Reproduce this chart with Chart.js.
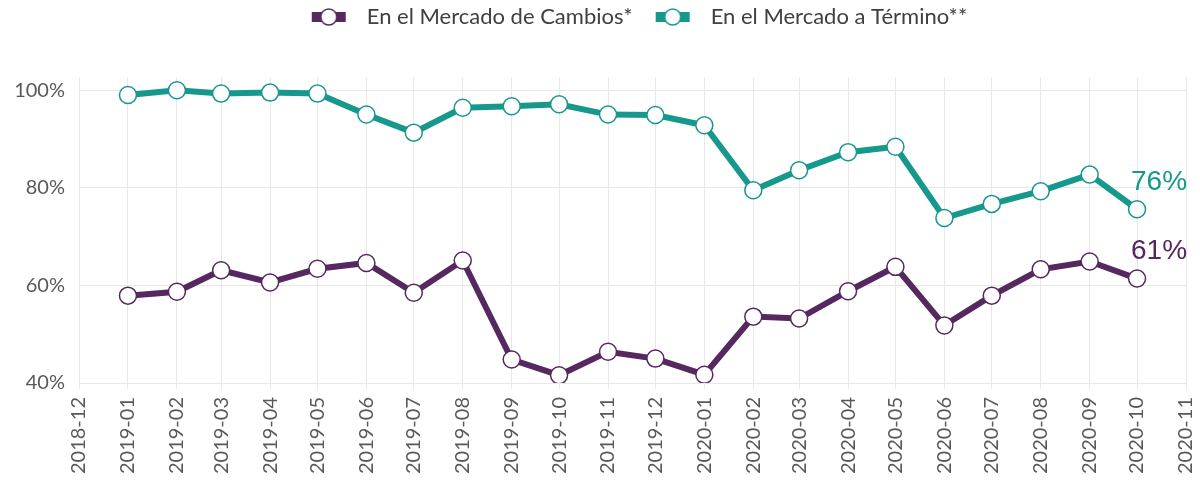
<!DOCTYPE html>
<html>
<head>
<meta charset="utf-8">
<script src="https://cdn.jsdelivr.net/npm/chart.js@4/dist/chart.umd.min.js"></script>
<style>
    html, body { margin: 0; padding: 0; background: #ffffff; }
    #wrap { width: 1200px; height: 483px; }
</style>
</head>
<body>
<div id="wrap"><canvas id="chart" width="1200" height="483"></canvas></div>
<script>
// Months with data
const months = ['2019-01', '2019-02', '2019-03', '2019-04', '2019-05', '2019-06', '2019-07', '2019-08',
    '2019-09', '2019-10', '2019-11', '2019-12', '2020-01', '2020-02', '2020-03', '2020-04',
    '2020-05', '2020-06', '2020-07', '2020-08', '2020-09', '2020-10'];

// Axis tick labels
const xTickLabels = ['2018-12', '2019-01', '2019-02', '2019-03', '2019-04', '2019-05', '2019-06',
    '2019-07', '2019-08', '2019-09', '2019-10', '2019-11', '2019-12', '2020-01', '2020-02',
    '2020-03', '2020-04', '2020-05', '2020-06', '2020-07', '2020-08', '2020-09', '2020-10', '2020-11'];
const yTickValues = [40, 60, 80, 100];

// Series values (%)
const cambios = [57.9, 58.7, 63.1, 60.6, 63.4, 64.6, 58.5, 65.1, 44.8, 41.6, 46.4, 45.0,
    41.7, 53.6, 53.2, 58.8, 63.8, 51.8, 57.9, 63.3, 64.9, 61.4];
const termino = [99.0, 100.0, 99.3, 99.5, 99.3, 95.0, 91.3, 96.4, 96.7, 97.1, 95.0, 94.9,
    92.8, 79.5, 83.6, 87.3, 88.4, 73.8, 76.7, 79.3, 82.7, 75.6];

const seriesNames = ['En el Mercado de Cambios*', 'En el Mercado a Término**'];
const purple = '#55285f';
const teal = '#16998c';

// month string -> day number (so months sit at their real spacing)
function dayOf(m) {
    const parts = m.split('-');
    return Date.UTC(+parts[0], +parts[1] - 1, 1) / 86400000;
}

function toPoints(values) {
    return values.map((v, i) => ({ x: dayOf(months[i]), y: v }));
}

// legend marker: thick line with open circle (transparent margins give the spacing)
const markerLeft = 17;
const markerWidth = 61;
function legendMarker(color) {
    const c = document.createElement('canvas');
    c.width = markerWidth;
    c.height = 20;
    const ctx = c.getContext('2d');
    ctx.fillStyle = color;
    ctx.fillRect(markerLeft, 5, 34, 10);
    ctx.beginPath();
    ctx.arc(markerLeft + 17, 10, 8, 0, Math.PI * 2);
    ctx.fillStyle = '#ffffff';
    ctx.fill();
    ctx.lineWidth = 1.5;
    ctx.strokeStyle = color;
    ctx.stroke();
    return c;
}

// last value label next to each line
const endLabels = {
    id: 'endLabels',
    afterDatasetsDraw(chart) {
        const ctx = chart.ctx;
        ctx.save();
        ctx.font = '28px "Liberation Sans", Arial, sans-serif';
        ctx.textAlign = 'left';
        ctx.textBaseline = 'middle';
        chart.data.datasets.forEach((ds, i) => {
            const meta = chart.getDatasetMeta(i);
            const last = meta.data[meta.data.length - 1];
            const value = ds.data[ds.data.length - 1].y;
            ctx.fillStyle = ds.borderColor;
            ctx.fillText(Math.round(value) + '%', last.x - 6, last.y - 27);
        });
        ctx.restore();
    }
};

const tickFont = { family: 'Lato, "Open Sans", sans-serif', size: 20 };

const chart = new Chart(document.getElementById('chart'), {
    type: 'line',
    data: {
        datasets: [
            {
                label: seriesNames[0],
                data: toPoints(cambios),
                borderColor: purple,
                backgroundColor: '#ffffff',
                borderWidth: 6,
                pointRadius: 8.5,
                pointBorderWidth: 1.5,
                pointBackgroundColor: '#ffffff',
                pointBorderColor: purple,
                tension: 0
            },
            {
                label: seriesNames[1],
                data: toPoints(termino),
                borderColor: teal,
                backgroundColor: '#ffffff',
                borderWidth: 6,
                pointRadius: 8.5,
                pointBorderWidth: 1.5,
                pointBackgroundColor: '#ffffff',
                pointBorderColor: teal,
                tension: 0
            }
        ]
    },
    options: {
        responsive: false,
        animation: false,
        layout: { padding: { top: 0, right: 14, left: 0, bottom: 0 } },
        plugins: {
            tooltip: { enabled: false },
            legend: {
                position: 'top',
                labels: {
                    usePointStyle: true,
                    pointStyleWidth: markerWidth,
                    boxHeight: 20,
                    padding: 6,
                    color: '#404040',
                    font: { family: 'Lato, "Open Sans", sans-serif', size: 22 },
                    generateLabels(chart) {
                        return chart.data.datasets.map((ds, i) => ({
                            text: ds.label,
                            pointStyle: legendMarker(ds.borderColor),
                            fillStyle: ds.borderColor,
                            strokeStyle: ds.borderColor,
                            lineWidth: 0,
                            hidden: false,
                            datasetIndex: i,
                            fontColor: '#404040'
                        }));
                    }
                }
            }
        },
        scales: {
            x: {
                type: 'linear',
                min: dayOf(xTickLabels[0]),
                max: dayOf(xTickLabels[xTickLabels.length - 1]),
                afterBuildTicks(scale) {
                    scale.ticks = xTickLabels.map(m => ({ value: dayOf(m) }));
                },
                afterFit(scale) {
                    scale.height = 100;
                    scale.paddingRight = 0;
                },
                grid: { color: '#e8e8e8', lineWidth: 1, tickLength: 6, drawTicks: true },
                border: { display: false },
                ticks: {
                    autoSkip: false,
                    minRotation: 90,
                    maxRotation: 90,
                    padding: 8,
                    color: '#595959',
                    font: tickFont,
                    callback(value, index) {
                        return xTickLabels[index];
                    }
                }
            },
            y: {
                min: 40,
                max: 102.7,
                afterBuildTicks(scale) {
                    scale.ticks = yTickValues.map(v => ({ value: v }));
                },
                afterFit(scale) {
                    scale.width = 79;
                },
                grid: { color: '#e8e8e8', lineWidth: 1, drawTicks: false },
                border: { display: false },
                ticks: {
                    padding: 14,
                    color: '#595959',
                    font: tickFont,
                    callback(value) {
                        return value + '%';
                    }
                }
            }
        }
    },
    plugins: [endLabels]
});

// reserve room under the legend so the plot starts where the original does
const legendFit = chart.legend.fit;
chart.legend.fit = function() {
    legendFit.call(this);
    this.height = 77;
};
// the original legend sits a little right of centre
const legendDraw = chart.legend.draw;
chart.legend.draw = function() {
    this.ctx.save();
    this.ctx.translate(38, 0);
    legendDraw.call(this);
    this.ctx.restore();
};
chart.update();
</script>
</body>
</html>
